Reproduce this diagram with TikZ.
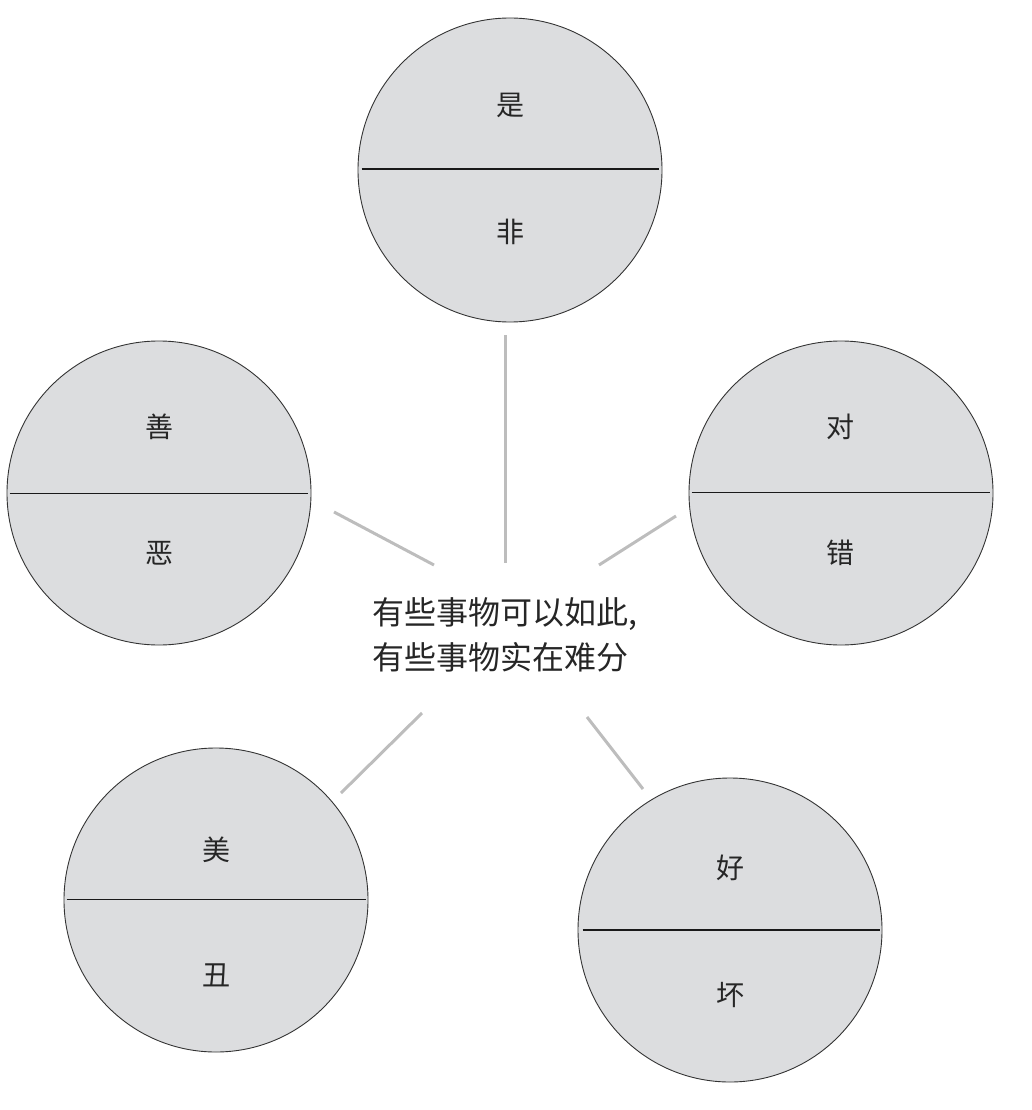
\documentclass[tikz,border=0pt]{standalone}
\usepackage{fontspec}
\newfontfamily\cjk{Noto Sans CJK SC}
\usetikzlibrary{calc}
\definecolor{circfill}{HTML}{DCDDDF}
\definecolor{conn}{HTML}{BDBDBD}
\begin{document}
\begin{tikzpicture}[x=1pt,y=-1pt,
  disc/.style={circle,draw=black!80,line width=0.9pt,fill=circfill,minimum size=304pt,inner sep=0pt},
  lbl/.style={font=\cjk\fontsize{28}{30}\selectfont,text=black!85,inner sep=0pt},
  ctext/.style={font=\cjk\fontsize{32}{45}\selectfont,text=black!85,align=left,inner sep=0pt},
  divthin/.style={line width=1pt,draw=black!90},
  divthick/.style={line width=2pt,draw=black!90},
  link/.style={line width=3pt,draw=conn}]
\useasboundingbox (0,0) rectangle (1032,1110);
% circles
\node[disc] (top) at (510,170) {};
\node[disc] (left) at (159,493) {};
\node[disc] (right) at (841,493) {};
\node[disc] (bl) at (216,900) {};
\node[disc] (br) at (730,930) {};
% dividers
\draw[divthick] ($(top.west)+(4,-1)$) -- ($(top.east)+(-3,-1)$);
\draw[divthin] ($(left.west)+(3,0)$) -- ($(left.east)+(-3,0)$);
\draw[divthin] ($(right.west)+(3,-1)$) -- ($(right.east)+(-3,-1)$);
\draw[divthin] ($(bl.west)+(3,-1)$) -- ($(bl.east)+(-2,-1)$);
\draw[divthick] ($(br.west)+(5,0)$) -- ($(br.east)+(-2,0)$);
% labels
\node[lbl] (t1) at (510,105) {是};
\node[lbl] (t2) at (510,232) {非};
\node[lbl] (l1) at (159,427) {善};
\node[lbl] (l2) at (159,553) {恶};
\node[lbl] (r1) at (840,427) {对};
\node[lbl] (r2) at (840,553) {错};
\node[lbl] (b1) at (216,850) {美};
\node[lbl] (b2) at (216,975) {丑};
\node[lbl] (c1) at (730,868) {好};
\node[lbl] (c2) at (730,995) {坏};
% center text
\node[ctext,anchor=west] (center) at (372,635) {有些事物可以如此,\\有些事物实在难分};
% connector end points
\coordinate (eT1) at (505,335); \coordinate (eT2) at (505,563);
\coordinate (eL1) at (334,512); \coordinate (eL2) at (434,565);
\coordinate (eR1) at (676,516); \coordinate (eR2) at (599,565);
\coordinate (eB1) at (422,713); \coordinate (eB2) at (341,793);
\coordinate (eC1) at (587,717); \coordinate (eC2) at (643,789);
\draw[link] (eT1) -- (eT2);
\draw[link] (eL1) -- (eL2);
\draw[link] (eR1) -- (eR2);
\draw[link] (eB1) -- (eB2);
\draw[link] (eC1) -- (eC2);
\end{tikzpicture}
\end{document}
